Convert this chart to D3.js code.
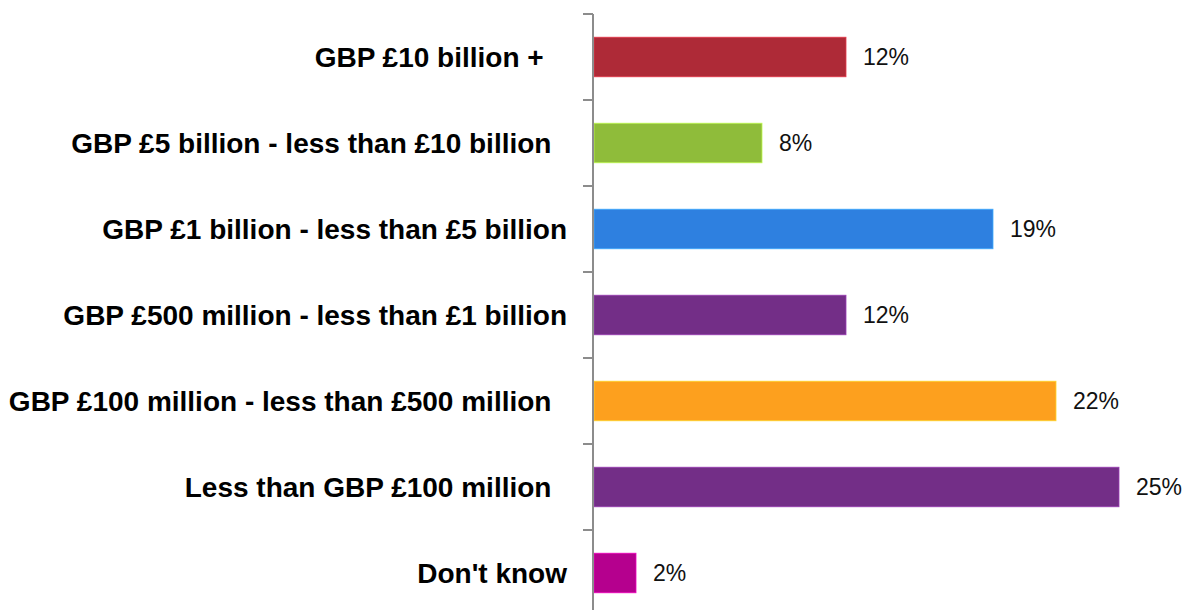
<!DOCTYPE html>
<html>
<head>
<meta charset="utf-8">
<script src="https://cdn.jsdelivr.net/npm/d3@7"></script>
<style>
  html, body { margin: 0; padding: 0; background: #fff; }
  svg { display: block; }
  text { font-family: "Liberation Sans", Arial, sans-serif; }
</style>
</head>
<body>
<svg id="chart" width="1184" height="610"></svg>
<script>
// Survey answer categories, top to bottom (trailing spaces kept as typed)
const categories = [
  "GBP £10 billion +   ",
  "GBP £5 billion - less than £10 billion  ",
  "GBP £1 billion - less than £5 billion",
  "GBP £500 million - less than £1 billion",
  "GBP £100 million - less than £500 million  ",
  "Less than GBP £100 million  ",
  "Don't know"
];
// Share of respondents, percent
const shares = [12, 8, 19, 12, 22, 25, 2];
const barColors = ["#AE2A37", "#8FBC3A", "#2E80E0", "#732E87", "#FDA01E", "#732E87", "#B5008E"];

const svg = d3.select("#chart");
const axisX = 593;

const y = d3.scaleBand()
  .domain(categories)
  .range([14, 14 + 86 * categories.length])
  .paddingInner(0.54)
  .paddingOuter(0.27);

const x = d3.scaleLinear().domain([0, 25]).range([axisX + 1, axisX + 526]);

// Bars
svg.selectAll("rect.bar")
  .data(categories)
  .join("rect")
  .attr("class", "bar")
  .attr("x", x(0))
  .attr("y", d => y(d))
  .attr("width", (d, i) => x(shares[i]) - x(0))
  .attr("height", y.bandwidth())
  .attr("fill", (d, i) => barColors[i])
  .attr("stroke", (d, i) => d3.color(barColors[i]).brighter(0.8))
  .attr("stroke-width", 0.8);

// Value labels
svg.selectAll("text.val")
  .data(categories)
  .join("text")
  .attr("class", "val")
  .attr("x", (d, i) => x(shares[i]) + 17)
  .attr("y", d => y(d) + y.bandwidth() / 2)
  .attr("dy", "0.36em")
  .attr("font-size", 23)
  .attr("fill", "#111")
  .text((d, i) => shares[i] + "%");

// Category axis: vertical line with ticks between bands
const step = y.step();
const bandStart = 14;
svg.append("line")
  .attr("x1", axisX).attr("x2", axisX)
  .attr("y1", bandStart).attr("y2", 610)
  .attr("stroke", "#8c8c8c").attr("stroke-width", 2);

const tickYs = d3.range(categories.length).map(i => bandStart + i * step);
svg.selectAll("line.tick")
  .data(tickYs)
  .join("line")
  .attr("class", "tick")
  .attr("x1", axisX - 10).attr("x2", axisX)
  .attr("y1", d => d).attr("y2", d => d)
  .attr("stroke", "#8c8c8c").attr("stroke-width", 2);

// Category labels
svg.selectAll("text.cat")
  .data(categories)
  .join("text")
  .attr("class", "cat")
  .attr("x", axisX - 26)
  .attr("y", d => y(d) + y.bandwidth() / 2)
  .attr("dy", "0.36em")
  .attr("text-anchor", "end")
  .attr("font-size", 28)
  .attr("font-weight", "bold")
  .attr("fill", "#000")
  .style("white-space", "pre")
  .text(d => d);
</script>
</body>
</html>
